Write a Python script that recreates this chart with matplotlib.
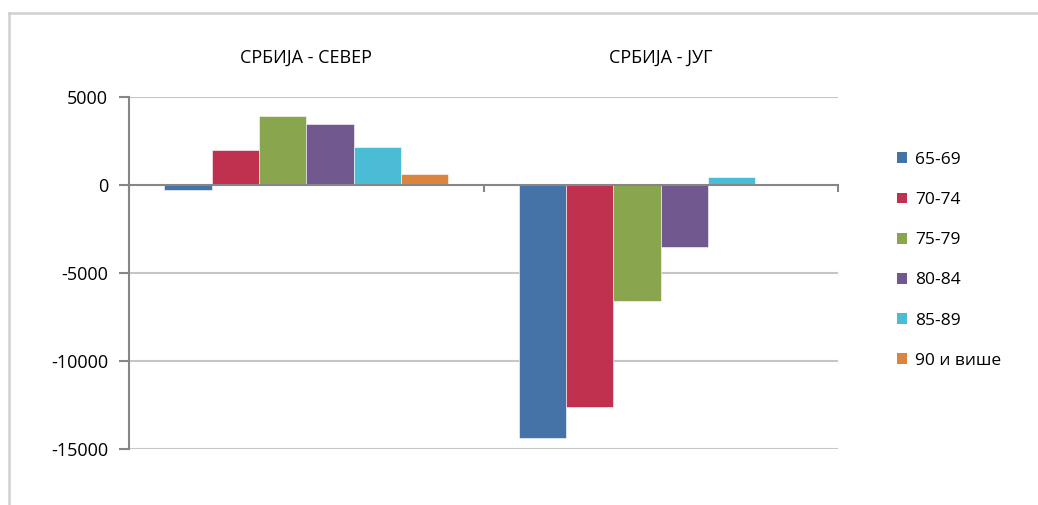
import matplotlib
matplotlib.use("Agg")
import matplotlib.pyplot as plt
import matplotlib.transforms as mtransforms
from matplotlib.lines import Line2D
from matplotlib.patches import Patch
import numpy as np

plt.rcParams['font.family'] = ['Open Sans', 'DejaVu Sans']

categories = ["СРБИЈА - СЕВЕР", "СРБИЈА - ЈУГ"]
series_labels = ["65-69", "70-74", "75-79", "80-84", "85-89", "90 и више"]
values = {
    "65-69": [-300, -14400],
    "70-74": [2000, -12600],
    "75-79": [3900, -6600],
    "80-84": [3450, -3500],
    "85-89": [2150, 450],
    "90 и више": [600, 40],
}
colors = ["#4572A7", "#C0304F", "#89A54E", "#71588F", "#4BBCD6", "#DB843D"]
yticks = [5000, 0, -5000, -10000, -15000]

W, H = 1038, 505
fig = plt.figure(figsize=(W / 100, H / 100), dpi=100)
ax = fig.add_axes([129 / W, 1 - 449 / H, (838 - 129) / W, (449 - 97) / H])

n = len(series_labels)
bw = 1.0 / (n + 1.5)
x = np.arange(len(categories))
for i, (lab, col) in enumerate(zip(series_labels, colors)):
    offs = (i - (n - 1) / 2) * bw
    ax.bar(x + offs, values[lab], width=bw, color=col, edgecolor="white",
           linewidth=0.4, zorder=3, label=lab)

ax.set_xlim(-0.5, len(categories) - 0.5)
ax.set_ylim(-15000, 5000)
ax.set_yticks(yticks)
ax.set_yticklabels([str(v) for v in yticks], fontsize=13)
for v in yticks:
    if v != 0:
        ax.axhline(v, color="#C6C6C6", lw=1.5, zorder=1)

for s in ["top", "right"]:
    ax.spines[s].set_visible(False)
ax.spines["left"].set_color("#868686")
ax.spines["left"].set_linewidth(1.5)
ax.spines["bottom"].set_position(("data", 0))
ax.spines["bottom"].set_color("#868686")
ax.spines["bottom"].set_linewidth(1.5)
ax.spines["bottom"].set_zorder(4)

ax.set_xticks(np.arange(len(categories) + 1) - 0.5)
ax.set_xticklabels([])
ax.tick_params(axis="x", direction="out", length=5, width=1.5, color="#868686")
ax.tick_params(axis="y", direction="out", length=7, width=1.5, color="#868686",
               pad=8, labelcolor="black")

trans = mtransforms.blended_transform_factory(ax.transData, ax.transAxes)
for xi, c in zip(x, categories):
    ax.text(xi, 1 + (97 - 58) / 352, c, transform=trans, ha="center", va="center",
            fontsize=13)

handles = [Patch(facecolor=c, edgecolor="none") for c in colors]
fig.legend(handles, series_labels, loc="upper left",
           bbox_to_anchor=(897 / W, 1 - 152 / H), frameon=False, fontsize=12.5,
           handlelength=0.58, handleheight=0.58, handletextpad=0.46,
           labelspacing=1.39, borderpad=0, borderaxespad=0)

fig.add_artist(Line2D([9 / W, 1037 / W], [1 - 13 / H, 1 - 13 / H], color="#D0D0D0",
                      lw=1.8, transform=fig.transFigure))
fig.add_artist(Line2D([9 / W, 9 / W], [0, 1 - 13 / H], color="#D0D0D0",
                      lw=1.8, transform=fig.transFigure))

fig.savefig("out.png", dpi=100)
